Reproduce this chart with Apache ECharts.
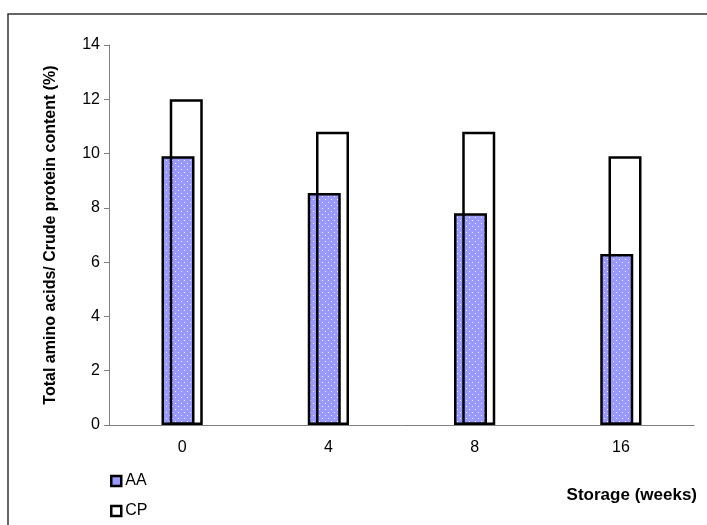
<!DOCTYPE html>
<html>
<head>
<meta charset="utf-8">
<script src="https://cdn.jsdelivr.net/npm/echarts@6/dist/echarts.min.js"></script>
<style>
  html, body { margin: 0; padding: 0; background: #fff; }
  #chart { width: 707px; height: 525px; }
</style>
</head>
<body>
<div id="chart"></div>
<script>
// Storage time categories (weeks)
const weeks = ['0', '4', '8', '16'];
// Total amino acids (%)
const aaValues = [9.9, 8.55, 7.8, 6.3];
// Crude protein content (%)
const cpValues = [12.0, 10.8, 10.8, 9.9];
// Y axis range
const yMin = 0, yMax = 14, yStep = 2;

// Dotted periwinkle fill used for the amino-acid bars
function dotPattern() {
  const c = document.createElement('canvas');
  c.width = 6; c.height = 6;
  const g = c.getContext('2d');
  g.fillStyle = '#9999ff';
  g.fillRect(0, 0, 6, 6);
  g.fillStyle = 'rgba(255,255,255,0.85)';
  g.fillRect(1, 1, 1, 1);
  g.fillRect(4, 4, 1, 1);
  return c;
}
const aaFill = { image: dotPattern(), repeat: 'repeat' };

const chart = echarts.init(document.getElementById('chart'), null, { renderer: 'canvas' });
const font = 'Arial, "Liberation Sans", sans-serif';

chart.setOption({
  animation: false,
  backgroundColor: '#fff',
  textStyle: { fontFamily: font },
  grid: { left: 109, right: 13, top: 45, bottom: 100, containLabel: false },
  xAxis: {
    type: 'category',
    data: weeks,
    axisLine: { lineStyle: { color: '#808080', width: 1 } },
    axisTick: { show: false },
    axisLabel: { color: '#000', fontSize: 16, margin: 15, fontFamily: font }
  },
  yAxis: {
    type: 'value',
    min: yMin, max: yMax, interval: yStep,
    name: 'Total amino acids/ Crude protein content (%)',
    nameLocation: 'middle',
    nameRotate: 90,
    nameGap: 50,
    nameTextStyle: { color: '#000', fontSize: 16, fontWeight: 'bold', fontFamily: font },
    axisLine: { show: true, lineStyle: { color: '#808080', width: 1 } },
    axisTick: { show: true, inside: false, length: 5, lineStyle: { color: '#808080' } },
    axisLabel: { color: '#000', fontSize: 16, margin: 9, fontFamily: font },
    splitLine: { show: false }
  },
  legend: {
    orient: 'vertical',
    left: 110,
    top: 473,
    padding: 0,
    itemWidth: 10,
    itemHeight: 10,
    itemGap: 14,
    icon: 'rect',
    textStyle: { color: '#000', fontSize: 16, fontFamily: font, padding: [0, 0, 0, -1] },
    data: [
      { name: 'AA', itemStyle: { color: '#9999ff', borderColor: '#000', borderWidth: 2.5 } },
      { name: 'CP', itemStyle: { color: '#fff', borderColor: '#000', borderWidth: 2.5 } }
    ]
  },
  series: [
    {
      name: 'AA',
      type: 'bar',
      data: aaValues,
      barWidth: 33,
      barGap: '-75%',
      itemStyle: { color: aaFill, borderColor: '#000', borderWidth: 2.5 }
    },
    {
      name: 'CP',
      type: 'bar',
      data: cpValues,
      barWidth: 33,
      barGap: '-75%',
      itemStyle: { color: 'rgba(255,255,255,0)', borderColor: '#000', borderWidth: 2.5 }
    }
  ],
  graphic: [
    {
      type: 'rect',
      silent: true,
      shape: { x: 8, y: 14, width: 760, height: 560 },
      style: { fill: 'none', stroke: '#333', lineWidth: 1.5 }
    },
    {
      type: 'text',
      right: 10,
      top: 487,
      style: { text: 'Storage (weeks)', font: 'bold 17px ' + font, fill: '#000' }
    }
  ]
});
</script>
</body>
</html>
